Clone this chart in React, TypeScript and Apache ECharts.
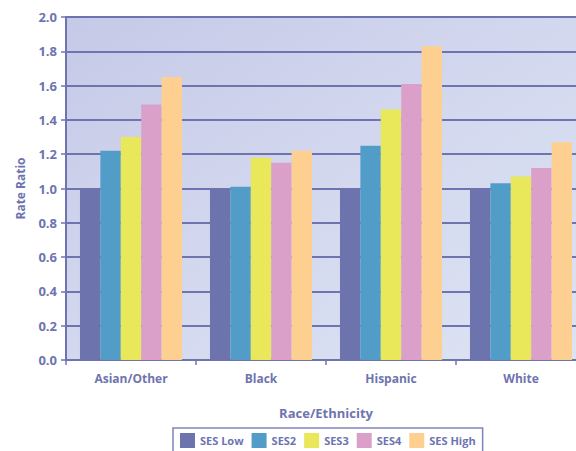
import React, { useEffect, useRef } from "react";
import * as echarts from "echarts";

const categories = ["Asian/Other", "Black", "Hispanic", "White"];
const seriesNames = ["SES Low", "SES2", "SES3", "SES4", "SES High"];
const sesLow = [1.0, 1.0, 1.0, 1.0];
const ses2 = [1.22, 1.01, 1.25, 1.03];
const ses3 = [1.3, 1.18, 1.46, 1.07];
const ses4 = [1.49, 1.15, 1.61, 1.12];
const sesHigh = [1.65, 1.22, 1.83, 1.27];
const seriesValues = [sesLow, ses2, ses3, ses4, sesHigh];
const colors = ["#6D74AD", "#529DC7", "#E8E85A", "#DAA0C9", "#FDD091"];

const AXIS = "#6E74B0";
const FONT = "'Open Sans', 'Noto Sans', sans-serif";

export default function App() {
  const ref = useRef<HTMLDivElement>(null);
  useEffect(() => {
    document.body.style.margin = "0";
    document.body.style.overflow = "hidden";
    const chart = echarts.init(ref.current!, null, { renderer: "svg" });
    chart.setOption({
      animation: false,
      backgroundColor: "#FFFFFF",
      grid: {
        left: 66,
        width: 520,
        top: 17,
        bottom: 91,
        outerBoundsMode: "none",
        containLabel: false,
        show: true,
        borderWidth: 0,
        backgroundColor: {
          type: "linear",
          x: 0,
          y: 0,
          x2: 1,
          y2: 1,
          colorStops: [
            { offset: 0, color: "#C6C9E7" },
            { offset: 0.5, color: "#D3D8EF" },
            { offset: 1, color: "#DDE4F2" },
          ],
        },
      },
      legend: {
        left: 173,
        top: 428,
        itemWidth: 15,
        itemHeight: 15,
        itemGap: 8,
        padding: [5, 7, 5, 7],
        borderColor: "#7F84BC",
        borderWidth: 1.5,
        borderRadius: 0,
        icon: "rect",
        data: seriesNames,
        textStyle: { color: AXIS, fontWeight: "bold", fontSize: 11, fontFamily: FONT },
      },
      xAxis: {
        type: "category",
        data: categories,
        name: "Race/Ethnicity",
        nameLocation: "middle",
        nameGap: 46,
        nameTextStyle: { color: AXIS, fontWeight: "bold", fontSize: 13, fontFamily: FONT },
        axisLine: { lineStyle: { color: AXIS, width: 2 } },
        axisTick: { show: true, length: 5, lineStyle: { color: AXIS, width: 1.5 } },
        axisLabel: { color: AXIS, fontWeight: "bold", fontSize: 12, margin: 12, fontFamily: FONT },
      },
      yAxis: {
        type: "value",
        min: 0,
        max: 2,
        interval: 0.2,
        name: "Rate Ratio",
        nameLocation: "middle",
        nameGap: 40,
        nameTextStyle: { color: AXIS, fontWeight: "bold", fontSize: 12, fontFamily: FONT },
        axisLine: { show: true, lineStyle: { color: AXIS, width: 2 } },
        axisTick: { show: true, length: 5, lineStyle: { color: AXIS, width: 1.5 } },
        axisLabel: {
          color: AXIS,
          fontWeight: "bold",
          fontSize: 13,
          margin: 9,
          fontFamily: FONT,
          formatter: (v: number) => v.toFixed(1),
        },
        splitLine: { show: true, lineStyle: { color: AXIS, width: 2 } },
      },
      series: seriesNames.map((name, i) => ({
        name,
        type: "bar",
        data: seriesValues[i],
        barGap: "0%",
        barCategoryGap: "21.5%",
        itemStyle: { color: colors[i] },
      })),
    });
    return () => chart.dispose();
  }, []);
  return <div ref={ref} style={{ width: 576, height: 451 }} />;
}
